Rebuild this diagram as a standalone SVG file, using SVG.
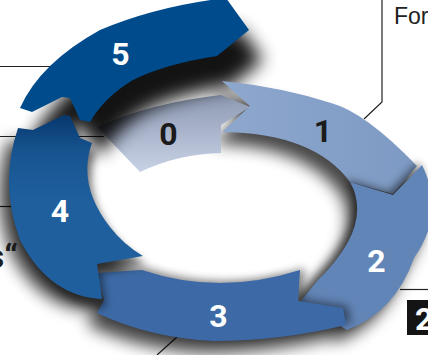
<svg xmlns="http://www.w3.org/2000/svg" xmlns:xlink="http://www.w3.org/1999/xlink" width="428" height="355" viewBox="0 0 428 355">
<style>
.ln{fill:none;stroke:#222;stroke-width:1.2}
.num{font-family:Roboto,"DejaVu Sans",sans-serif;font-weight:700;font-size:32px;text-anchor:middle}
.w{fill:#fff}
.d{fill:#1b1b1b}
.blk{fill:#000}
</style>
<defs>
<filter id="b8" x="-30%" y="-30%" width="160%" height="160%"><feGaussianBlur stdDeviation="8"/></filter>
<filter id="b10" x="-30%" y="-30%" width="160%" height="160%"><feGaussianBlur stdDeviation="9"/></filter>
<filter id="b4" x="-30%" y="-30%" width="160%" height="160%"><feGaussianBlur stdDeviation="4"/></filter>
<linearGradient id="g0" x1="0" y1="95" x2="0" y2="172" gradientUnits="userSpaceOnUse"><stop offset="0" stop-color="#8e9ab3"/><stop offset="1" stop-color="#c8d2e6"/></linearGradient>
<linearGradient id="g1" x1="222" y1="0" x2="417" y2="0" gradientUnits="userSpaceOnUse"><stop offset="0" stop-color="#8ea7cd"/><stop offset="1" stop-color="#7d9ac4"/></linearGradient>
<linearGradient id="g4" x1="0" y1="112" x2="0" y2="200" gradientUnits="userSpaceOnUse"><stop offset="0" stop-color="#06356b"/><stop offset="0.45" stop-color="#17548f"/><stop offset="1" stop-color="#1f5f9e"/></linearGradient>
<path id="p0" d="M97,127 Q150,103 221,95 L250,107 L221,125 L221,153 Q179.5,153.5 140,172 Z"/>
<path id="p1" d="M222,81 L250,106 L222,132 Q314,133 350,182 L393,194 L417,166 Q365,112 331,103 Q281.5,87 222,81 Z"/>
<path id="p2" d="M350,182 L393,195 L422,165 Q446,212.5 414,258 Q395,312 347,330 L300,302 L318,280 Q374,225 350,182 Z"/>
<path id="p3" d="M300,270 L298,301 L343,308 L346,325 Q280,341 214,341 Q150,338 97,313 L104,300 L97,273 L142,270 Q219,296 300,270 Z"/>
<path id="p4" d="M18,128 L33,130 L64,115 L70,116 L80,138 L92,143 Q77,185 110,227 Q123.5,244.5 143,256 L97,264 L102,299 Q49,296.5 20,240 Q-1,184 18,128 Z"/>
<path id="p5" d="M20,108 L32,112 L62,97 L70,98 L80,120 L90,122 Q104.5,97 133,80 Q165,64 217,56 L249,30 L226,-2 Q157,6 100,30 Q40,63 20,108 Z"/>
</defs>

<g id="connectors">
<line class="ln" x1="0" y1="66.5" x2="50" y2="66.5"/>
<line class="ln" x1="0" y1="136.5" x2="104" y2="136.5"/>
<line class="ln" x1="0" y1="206.5" x2="14" y2="206.5"/>
<polyline class="ln" points="382,0 382,102 364,119"/>
<line class="ln" x1="157" y1="355" x2="177" y2="337"/>
<line class="ln" x1="400" y1="289.5" x2="428" y2="289.5"/>
</g>

<g id="ring-shadow" filter="url(#b8)" opacity="0.72" transform="translate(-10,12)">
<use xlink:href="#p1" class="blk"/>
<use xlink:href="#p2" class="blk"/>
<use xlink:href="#p3" class="blk"/>
<use xlink:href="#p4" class="blk"/>
</g>

<g id="seg0">
<use xlink:href="#p0" fill="url(#g0)"/>
</g>

<g id="seg5-shadow" filter="url(#b10)" opacity="0.92" transform="translate(14,30)">
<use xlink:href="#p5" class="blk"/>
</g>

<g id="seg1">
<use xlink:href="#p1" fill="url(#g1)"/>
</g>

<g filter="url(#b4)" opacity="0.5" transform="translate(-4,-3)"><use xlink:href="#p2" class="blk"/></g>
<g id="seg2">
<use xlink:href="#p2" fill="#6285b7"/>
</g>

<g filter="url(#b4)" opacity="0.45" transform="translate(5,-2)"><use xlink:href="#p3" class="blk"/></g>
<g id="seg3">
<use xlink:href="#p3" fill="#3d6aa6"/>
</g>

<g filter="url(#b4)" opacity="0.5" transform="translate(4,9)"><use xlink:href="#p4" class="blk"/></g>
<g id="seg4">
<use xlink:href="#p4" fill="url(#g4)"/>
</g>

<g id="seg5">
<use xlink:href="#p5" fill="#004b8c"/>
</g>

<g id="labels">
<text class="num w" x="120.5" y="65">5</text>
<text class="num d" x="168.5" y="145">0</text>
<text class="num d" x="323" y="142">1</text>
<text class="num w" x="376.5" y="272">2</text>
<text class="num w" x="218.5" y="327">3</text>
<text class="num w" x="60" y="222">4</text>
</g>

<g id="callout-texts">
<text x="394" y="24" font-family="'Liberation Sans',Arial,sans-serif" font-size="23" fill="#222">For</text>
<text x="18" y="268" text-anchor="end" font-family="Roboto,'DejaVu Sans',sans-serif" font-weight="700" font-size="34" fill="#1b1b1b">s“</text>
</g>

<g id="box2">
<rect x="407" y="300" width="21" height="35" fill="#141414"/>
<text class="num w" x="415" y="330" style="text-anchor:start">2</text>
</g>
</svg>
